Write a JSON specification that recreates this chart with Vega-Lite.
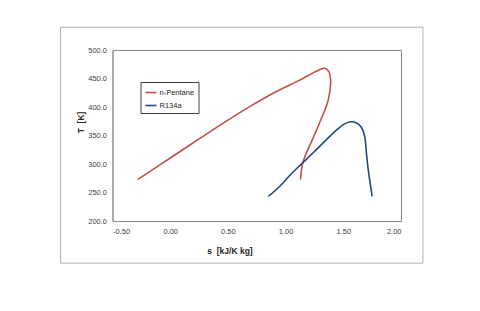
{
  "$schema": "https://vega.github.io/schema/vega-lite/v6.json",
  "width": 288.5,
  "height": 171,
  "autosize": {"type": "none"},
  "padding": {"left": 112.5, "top": 50, "right": 79, "bottom": 90},
  "background": "white",
  "config": {
    "view": {"stroke": "#8c8c8c", "strokeWidth": 1},
    "font": "Liberation Sans",
    "axis": {
      "labelFont": "Liberation Sans",
      "labelFontSize": 7.5,
      "labelColor": "#404040",
      "labelOverlap": false,
      "titleFont": "Liberation Sans",
      "titleFontSize": 8.5,
      "titleFontWeight": "bold",
      "titleColor": "#262626",
      "domainColor": "#8c8c8c",
      "ticks": false,
      "grid": false
    }
  },
  "datasets": {
    "curves": [
      {"i": 0, "s": -0.28, "T": 273, "fluid": "n-Pentane"},
      {"i": 1, "s": 0.0, "T": 310.5, "fluid": "n-Pentane"},
      {"i": 2, "s": 0.25, "T": 344, "fluid": "n-Pentane"},
      {"i": 3, "s": 0.5, "T": 377, "fluid": "n-Pentane"},
      {"i": 4, "s": 0.7, "T": 402, "fluid": "n-Pentane"},
      {"i": 5, "s": 0.9, "T": 425, "fluid": "n-Pentane"},
      {"i": 6, "s": 1.05, "T": 440, "fluid": "n-Pentane"},
      {"i": 7, "s": 1.15, "T": 450, "fluid": "n-Pentane"},
      {"i": 8, "s": 1.23, "T": 459, "fluid": "n-Pentane"},
      {"i": 9, "s": 1.29, "T": 465, "fluid": "n-Pentane"},
      {"i": 10, "s": 1.34, "T": 468, "fluid": "n-Pentane"},
      {"i": 11, "s": 1.375, "T": 462, "fluid": "n-Pentane"},
      {"i": 12, "s": 1.39, "T": 447, "fluid": "n-Pentane"},
      {"i": 13, "s": 1.385, "T": 430, "fluid": "n-Pentane"},
      {"i": 14, "s": 1.367, "T": 410, "fluid": "n-Pentane"},
      {"i": 15, "s": 1.335, "T": 392, "fluid": "n-Pentane"},
      {"i": 16, "s": 1.25, "T": 351, "fluid": "n-Pentane"},
      {"i": 17, "s": 1.15, "T": 303, "fluid": "n-Pentane"},
      {"i": 18, "s": 1.13, "T": 273, "fluid": "n-Pentane"},
      {"i": 0, "s": 0.85, "T": 243, "fluid": "R134a"},
      {"i": 1, "s": 0.95, "T": 261, "fluid": "R134a"},
      {"i": 2, "s": 1.05, "T": 283, "fluid": "R134a"},
      {"i": 3, "s": 1.148, "T": 302, "fluid": "R134a"},
      {"i": 4, "s": 1.25, "T": 322, "fluid": "R134a"},
      {"i": 5, "s": 1.385, "T": 349, "fluid": "R134a"},
      {"i": 6, "s": 1.45, "T": 361, "fluid": "R134a"},
      {"i": 7, "s": 1.5, "T": 369, "fluid": "R134a"},
      {"i": 8, "s": 1.56, "T": 374, "fluid": "R134a"},
      {"i": 9, "s": 1.615, "T": 372, "fluid": "R134a"},
      {"i": 10, "s": 1.655, "T": 365, "fluid": "R134a"},
      {"i": 11, "s": 1.685, "T": 349, "fluid": "R134a"},
      {"i": 12, "s": 1.7, "T": 320, "fluid": "R134a"},
      {"i": 13, "s": 1.715, "T": 292, "fluid": "R134a"},
      {"i": 14, "s": 1.75, "T": 243, "fluid": "R134a"}
    ]
  },
  "layer": [
    {
      "data": {"values": [{"frame": "outer"}]},
      "mark": {"type": "rect", "fill": null, "fillOpacity": 0, "stroke": "#b3b3b3", "strokeWidth": 1, "clip": false},
      "encoding": {
        "x": {"datum": -0.95, "type": "quantitative", "scale": {"domain": [-0.5, 2], "nice": false, "zero": false},
          "axis": {"values": [-0.5, 0, 0.5, 1, 1.5, 2], "labelOverlap": false, "labelExpr": "replace(format(datum.value, '.2f'), '\u2212', '-')", "title": "s\u00a0\u00a0[kJ/K kg]", "labelPadding": 6, "titleX": 117, "titleY": 29, "titleBaseline": "middle", "titleAlign": "center"}},
        "x2": {"datum": 2.19},
        "y": {"datum": 540, "type": "quantitative", "scale": {"domain": [200, 500], "nice": false, "zero": false},
          "axis": {"values": [200, 250, 300, 350, 400, 450, 500], "labelOverlap": false, "format": ".1f", "title": "T\u00a0\u00a0[K]", "labelPadding": 6, "titleX": -32, "titleY": 72, "titleBaseline": "middle", "titleAlign": "center"}},
        "y2": {"datum": 126}
      }
    },
    {
      "data": {"name": "curves"},
      "mark": {"type": "line", "strokeWidth": 1.6, "interpolate": "catmull-rom"},
      "encoding": {
        "x": {
          "field": "s", "type": "quantitative",
          "scale": {"domain": [-0.5, 2], "nice": false, "zero": false},
          "axis": {"values": [-0.5, 0, 0.5, 1, 1.5, 2], "labelOverlap": false, "labelExpr": "replace(format(datum.value, '.2f'), '\u2212', '-')", "title": "s\u00a0\u00a0[kJ/K kg]", "labelPadding": 6, "titleX": 117, "titleY": 29, "titleBaseline": "middle", "titleAlign": "center"}
        },
        "y": {
          "field": "T", "type": "quantitative",
          "scale": {"domain": [200, 500], "nice": false, "zero": false},
          "axis": {"values": [200, 250, 300, 350, 400, 450, 500], "labelOverlap": false, "format": ".1f", "title": "T\u00a0\u00a0[K]", "labelPadding": 6, "titleX": -32, "titleY": 72, "titleBaseline": "middle", "titleAlign": "center"}
        },
        "order": {"field": "i", "type": "quantitative"},
        "color": {
          "field": "fluid", "type": "nominal",
          "scale": {"domain": ["n-Pentane", "R134a"], "range": ["#c0504d", "#1f497d"]},
          "legend": {
            "title": null,
            "orient": "none",
            "legendX": 28,
            "legendY": 32,
            "symbolType": "stroke",
            "symbolSize": 120,
            "symbolStrokeWidth": 1.6,
            "labelFontSize": 7.5,
            "labelFont": "Liberation Sans",
            "labelColor": "#262626",
            "labelOffset": 2,
            "strokeColor": "#404040",
            "fillColor": "white",
            "padding": 4,
            "rowPadding": 3
          }
        }
      }
    }
  ]
}
